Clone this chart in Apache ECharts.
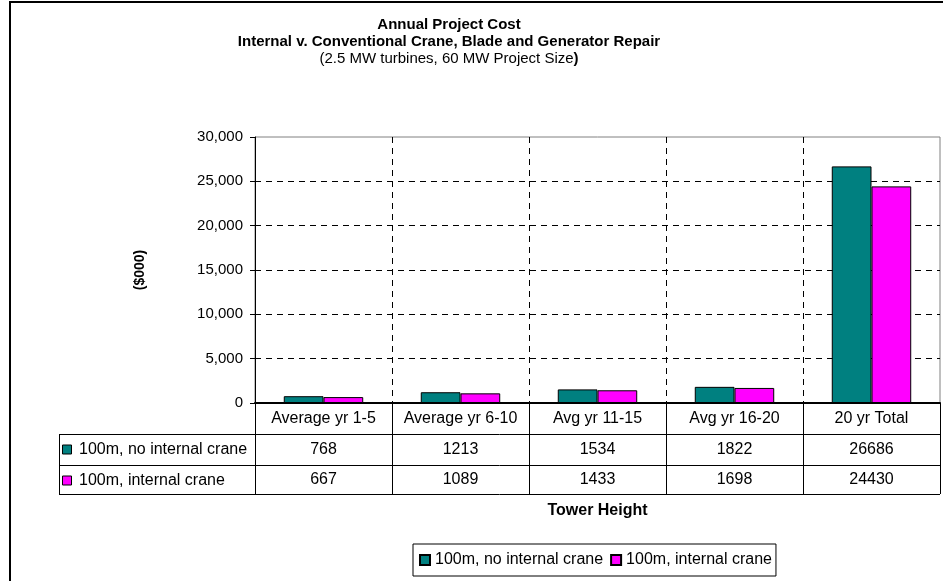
<!DOCTYPE html>
<html>
<head>
<meta charset="utf-8">
<script src="https://cdn.jsdelivr.net/npm/echarts@6/dist/echarts.min.js"></script>
<style>
  html, body { margin: 0; padding: 0; background: #fff; }
  #chart { width: 943px; height: 581px; }
</style>
</head>
<body>
<div id="chart"></div>
<script>
const categories = ["Average yr 1-5", "Average yr 6-10", "Avg yr 11-15", "Avg yr 16-20", "20 yr Total"];
const seriesNames = ["100m, no internal crane", "100m, internal crane"];
const noCrane = [768, 1213, 1534, 1822, 26686];
const withCrane = [667, 1089, 1433, 1698, 24430];
const colors = ["#008080", "#FF00FF"];

const FONT = "Liberation Sans, Arial, sans-serif";

// plot / table layout
const gridLeft = 255, gridRight = 3, gridTop = 137, axisY = 403;
const rowH = 31;
const tableLeft = 59, tableRight = 943 - gridRight;
const rowTops = [434, 465];
const tableBottom = 494;

const chart = echarts.init(document.getElementById("chart"));

const graphics = [
  // outer frame
  { type: "rect", shape: { x: 10, y: 2, width: 1000, height: 700 },
    style: { fill: "none", stroke: "#000", lineWidth: 2 }, silent: true }
];
// horizontal table lines
[rowTops[0], rowTops[1], tableBottom].forEach((y) => {
  graphics.push({ type: "line", shape: { x1: tableLeft, y1: y + 0.5, x2: tableRight, y2: y + 0.5 },
    style: { stroke: "#000", lineWidth: 1 }, silent: true });
});
graphics.push({ type: "line", shape: { x1: tableLeft + 0.5, y1: rowTops[0], x2: tableLeft + 0.5, y2: tableBottom },
  style: { stroke: "#000", lineWidth: 1 }, silent: true });
// row headers with legend keys
seriesNames.forEach((name, i) => {
  const cy = rowTops[i] + rowH / 2;
  graphics.push({ type: "rect", shape: { x: 62.5, y: cy - 4.5, width: 9, height: 9 },
    style: { fill: colors[i], stroke: "#000", lineWidth: 1 }, silent: true });
  graphics.push({ type: "text", x: 79, y: cy,
    style: { text: name, fontSize: 16, fontFamily: FONT, fill: "#000", verticalAlign: "middle" }, silent: true });
});

const option = {
  animation: false,
  textStyle: { fontFamily: FONT },
  title: {
    text: "Annual Project Cost\nInternal v. Conventional Crane, Blade and Generator Repair",
    subtext: "(2.5 MW turbines, 60 MW Project Size{b|)}",
    left: 444,
    top: 11,
    textAlign: "center",
    itemGap: 0,
    textStyle: { fontSize: 15, fontWeight: "bold", color: "#000", lineHeight: 17, fontFamily: FONT },
    subtextStyle: { fontSize: 15, color: "#000", lineHeight: 17, fontFamily: FONT,
      rich: { b: { fontSize: 15, fontWeight: "bold", color: "#000", fontFamily: FONT } } }
  },
  legend: {
    left: 413,
    top: 544,
    itemWidth: 10,
    itemHeight: 10,
    itemGap: 7,
    padding: [8, 4, 8, 6],
    borderColor: "#000",
    borderWidth: 1,
    icon: "rect",
    textStyle: { fontSize: 16, color: "#000", fontFamily: FONT },
    data: seriesNames
  },
  grid: {
    left: gridLeft,
    right: gridRight,
    top: gridTop,
    bottom: 581 - axisY,
    containLabel: false,
    outerBoundsMode: "none",
    show: true,
    borderColor: "#808080",
    borderWidth: 1
  },
  xAxis: [
    {
      type: "category",
      data: categories,
      axisLine: { lineStyle: { color: "#000", width: 2 } },
      axisTick: { show: true, alignWithLabel: false, length: tableBottom - axisY, lineStyle: { color: "#000" } },
      axisLabel: { fontSize: 16, color: "#000", margin: 8, interval: 0 },
      splitLine: { show: true, showMinLine: false, showMaxLine: false,
        lineStyle: { color: "#000", type: [6, 5] } },
      name: "Tower Height",
      nameLocation: "middle",
      nameGap: 100,
      nameTextStyle: { fontSize: 16, fontWeight: "bold", color: "#000" }
    },
    {
      type: "category",
      data: noCrane.map(String),
      position: "bottom",
      offset: rowH,
      axisLine: { show: false },
      axisTick: { show: false },
      axisLabel: { fontSize: 16, color: "#000", margin: 8, interval: 0 }
    },
    {
      type: "category",
      data: withCrane.map(String),
      position: "bottom",
      offset: rowH * 2 - 1,
      axisLine: { show: false },
      axisTick: { show: false },
      axisLabel: { fontSize: 16, color: "#000", margin: 8, interval: 0 }
    }
  ],
  yAxis: {
    type: "value",
    min: 0,
    max: 30000,
    interval: 5000,
    axisLine: { show: true, lineStyle: { color: "#000" } },
    axisTick: { show: true, length: 5, lineStyle: { color: "#000" } },
    axisLabel: {
      fontSize: 15, color: "#000", margin: 12,
      formatter: (v) => v.toLocaleString("en-US")
    },
    splitLine: { show: true, showMinLine: false, showMaxLine: false,
      lineStyle: { color: "#000", type: [6, 5] } },
    name: "($000)",
    nameLocation: "middle",
    nameRotate: 90,
    nameGap: 108,
    nameTextStyle: { fontSize: 14, fontWeight: "bold", color: "#000" }
  },
  series: [
    {
      name: seriesNames[0],
      type: "bar",
      data: noCrane,
      barGap: "0%",
      barCategoryGap: "42%",
      itemStyle: { color: colors[0], borderColor: "#000", borderWidth: 1 }
    },
    {
      name: seriesNames[1],
      type: "bar",
      data: withCrane,
      barGap: "0%",
      barCategoryGap: "42%",
      itemStyle: { color: colors[1], borderColor: "#000", borderWidth: 1 }
    }
  ],
  graphic: graphics
};

chart.setOption(option);
</script>
</body>
</html>
